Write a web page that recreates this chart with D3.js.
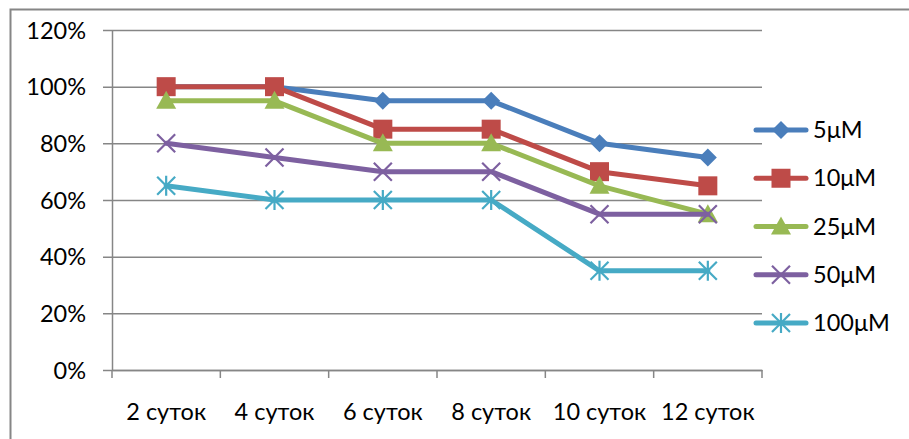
<!DOCTYPE html>
<html>
<head>
<meta charset="utf-8">
<script src="https://cdn.jsdelivr.net/npm/d3@7"></script>
<style>
  html, body { margin: 0; padding: 0; background: #fff; }
  svg text { font-family: Lato, "Open Sans", sans-serif; fill: #000; }
</style>
</head>
<body>
<svg id="chart" width="909" height="439"></svg>
<script>
const categories = ["2 суток", "4 суток", "6 суток", "8 суток", "10 суток", "12 суток"];
const seriesNames = ["5μM", "10μM", "25μM", "50μM", "100μM"];
const s5 = [1.00, 1.00, 0.95, 0.95, 0.80, 0.75];
const s10 = [1.00, 1.00, 0.85, 0.85, 0.70, 0.65];
const s25 = [0.95, 0.95, 0.80, 0.80, 0.65, 0.55];
const s50 = [0.80, 0.75, 0.70, 0.70, 0.55, 0.55];
const s100 = [0.65, 0.60, 0.60, 0.60, 0.35, 0.35];
const yTicks = [0, 0.2, 0.4, 0.6, 0.8, 1.0, 1.2];
const colors = ["#4A7EBB", "#BE4B48", "#98B954", "#7D60A0", "#46AAC5"];
const markers = ["diamond", "square", "triangle", "x", "star"];

const seriesData = [s5, s10, s25, s50, s100].map((v, i) => ({
  name: seriesNames[i], values: v, color: colors[i], marker: markers[i]
}));

const FS = 23.5;
const svg = d3.select("#chart");

// outer frame (right/bottom edges fall outside the view)
svg.append("rect").attr("x", 10.5).attr("y", 9.5).attr("width", 1000).attr("height", 1000)
  .attr("fill", "none").attr("stroke", "#868686").attr("stroke-width", 2);

const pLeft = 112, pRight = 762, pTop = 30, pBottom = 370;
const x = d3.scaleBand().domain(categories).range([pLeft, pRight]);
const y = d3.scaleLinear().domain([0, 1.2]).range([pBottom, pTop]);

// gridlines + y axis
const yAxis = d3.axisLeft(y).tickValues(yTicks).tickFormat(d3.format(".0%"))
  .tickSize(-(pRight - pLeft)).tickSizeOuter(0).tickPadding(17);
const gy = svg.append("g").attr("transform", `translate(${pLeft},0)`).call(yAxis);
gy.select(".domain").attr("stroke", "#868686").attr("stroke-width", 1.5);
gy.selectAll(".tick line").attr("stroke", "#868686").attr("stroke-width", 1.5).attr("x1", -9);
gy.selectAll(".tick text").attr("font-size", FS).attr("x", -26).attr("dy", "0.35em");

// x axis
const xAxis = d3.axisBottom(x).tickSize(0).tickSizeOuter(0).tickPadding(33);
const gx = svg.append("g").attr("transform", `translate(0,${pBottom})`).call(xAxis);
gx.select(".domain").attr("stroke", "#868686").attr("stroke-width", 1.5);
gx.selectAll(".tick text").attr("font-size", FS);
// tick marks at category boundaries
const bounds = categories.map(c => x(c)).concat([x(categories[categories.length - 1]) + x.bandwidth()]);
gx.selectAll(".bnd").data(bounds).enter().append("line")
  .attr("x1", d => d).attr("x2", d => d).attr("y1", 0).attr("y2", 8)
  .attr("stroke", "#868686").attr("stroke-width", 1.5);

const cx = c => x(c) + x.bandwidth() / 2;

function drawMarker(g, type, color, px, py) {
  if (type === "diamond") {
    g.append("path").attr("d", `M${px},${py-9}L${px+9},${py}L${px},${py+9}L${px-9},${py}Z`).attr("fill", color);
  } else if (type === "square") {
    g.append("rect").attr("x", px-9.5).attr("y", py-9.5).attr("width", 19).attr("height", 19).attr("fill", color);
  } else if (type === "triangle") {
    g.append("path").attr("d", `M${px},${py-10}L${px+10},${py+8}L${px-10},${py+8}Z`).attr("fill", color);
  } else if (type === "x") {
    g.append("path").attr("d", `M${px-9},${py-9}L${px+9},${py+9}M${px-9},${py+9}L${px+9},${py-9}`)
      .attr("stroke", color).attr("stroke-width", 2.2).attr("fill", "none");
  } else if (type === "star") {
    g.append("path").attr("d", `M${px-9},${py-9}L${px+9},${py+9}M${px-9},${py+9}L${px+9},${py-9}M${px},${py-10}L${px},${py+10}`)
      .attr("stroke", color).attr("stroke-width", 2.2).attr("fill", "none");
  }
}

const line = d3.line().x((d, i) => cx(categories[i])).y(d => y(d));
seriesData.forEach(s => {
  const g = svg.append("g");
  g.append("path").datum(s.values).attr("d", line).attr("fill", "none")
    .attr("stroke", s.color).attr("stroke-width", 5).attr("stroke-linejoin", "round").attr("stroke-linecap", "round");
  s.values.forEach((v, i) => drawMarker(g, s.marker, s.color, cx(categories[i]), y(v)));
});

// legend
const legendY = d3.scaleLinear().domain([0, seriesData.length - 1]).range([130, 323]);
seriesData.forEach((s, i) => {
  const g = svg.append("g");
  const ly = legendY(i);
  g.append("line").attr("x1", 756).attr("x2", 806).attr("y1", ly).attr("y2", ly)
    .attr("stroke", s.color).attr("stroke-width", 5).attr("stroke-linecap", "round");
  drawMarker(g, s.marker, s.color, 781, ly);
  g.append("text").attr("x", 813).attr("y", ly).attr("dy", "0.35em").attr("font-size", FS).text(s.name);
});
</script>
</body>
</html>
